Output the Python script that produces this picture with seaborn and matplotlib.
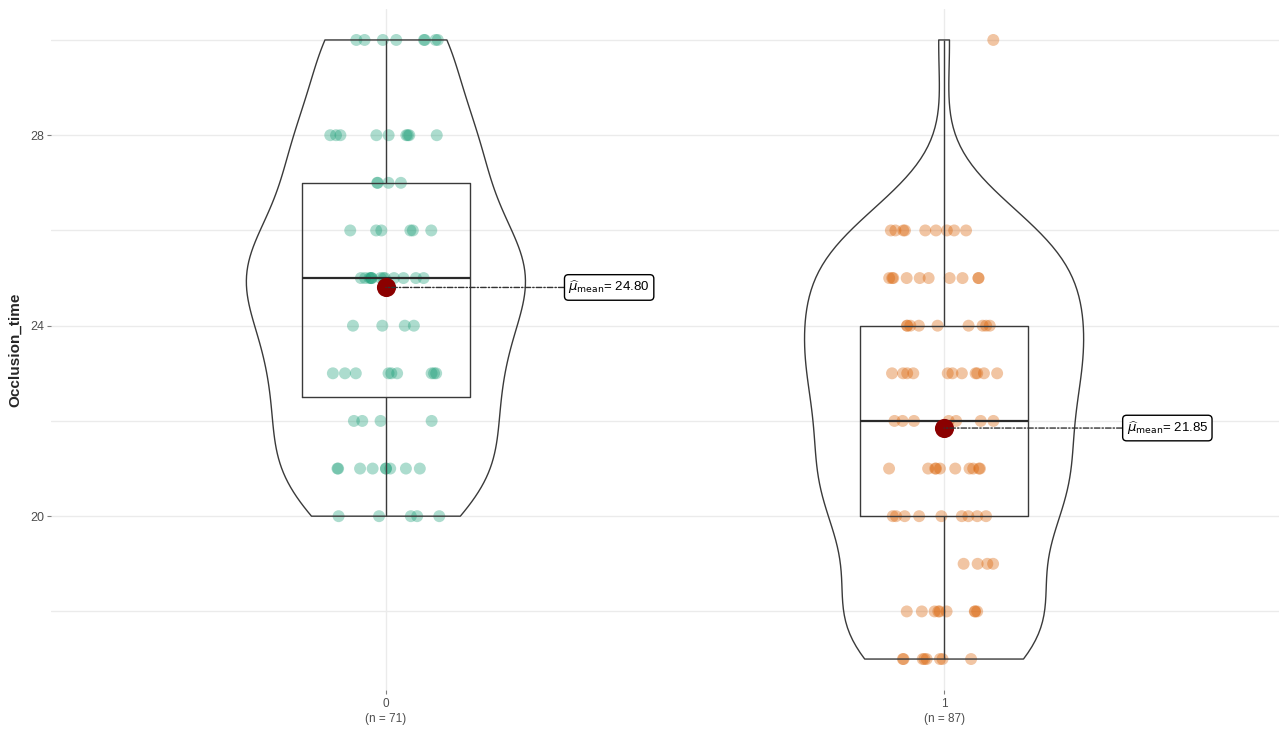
import numpy as np
import pandas as pd
import matplotlib
matplotlib.use("Agg")
import matplotlib.pyplot as plt
import seaborn as sns

# Occlusion time observations, stored as value levels and how often each occurs
groups = ["0", "1"]
group0_levels = [20, 21, 22, 23, 24, 25, 26, 27, 28, 30]
group0_counts = [5, 9, 4, 9, 4, 13, 6, 4, 9, 8]
group1_levels = [17, 18, 19, 20, 21, 22, 23, 24, 25, 26, 30]
group1_counts = [8, 9, 4, 9, 10, 7, 11, 9, 10, 9, 1]
palette = ["#1B9E77", "#D95F02"]
y_label = "Occlusion_time"

vals0 = np.repeat(group0_levels, group0_counts)
vals1 = np.repeat(group1_levels, group1_counts)
df = pd.DataFrame({
    "group": ["0"] * len(vals0) + ["1"] * len(vals1),
    "Occlusion_time": np.concatenate([vals0, vals1]).astype(float),
})


def nrd0_factor(kde):
    """Silverman's rule-of-thumb bandwidth expressed as a factor of the sample sd."""
    x = kde.dataset.ravel()
    sd = np.std(x, ddof=1)
    iqr = np.subtract(*np.percentile(x, [75, 25]))
    lo = min(sd, iqr / 1.34) if iqr > 0 else sd
    return 0.9 * lo * len(x) ** (-0.2) / sd


np.random.seed(7)
sns.set_theme(style="white")
plt.rcParams["font.family"] = ["Liberation Sans", "DejaVu Sans"]

fig = plt.figure(figsize=(12.79, 7.32), dpi=100)
ax = fig.add_axes([51 / 1279, 42 / 732, 1228 / 1279, 681 / 732])

# jittered raw observations
sns.stripplot(data=df, x="group", y="Occlusion_time", hue="group", order=groups,
              hue_order=groups, palette=palette, jitter=0.1, size=8.6, alpha=0.36,
              linewidth=0, legend=False, ax=ax, zorder=2)

# box-and-whisker summary without caps or outliers
sns.boxplot(data=df, x="group", y="Occlusion_time", order=groups, width=0.3,
            fill=False, color="#3a3a3a", linewidth=1.0, showcaps=False,
            showfliers=False, whis=1.5, ax=ax, zorder=3,
            medianprops={"linewidth": 1.6, "color": "#2a2a2a"})

# trimmed violins, each scaled to the same maximum width
sns.violinplot(data=df, x="group", y="Occlusion_time", order=groups, width=0.5,
               cut=0, density_norm="width", bw_method=nrd0_factor, inner=None,
               fill=False, color="#3a3a3a", linewidth=1.0, ax=ax, zorder=3)

# group means with labelled call-outs
means = df.groupby("group")["Occlusion_time"].mean().reindex(groups)
for i, m in enumerate(means.values):
    ax.annotate(r"$\widehat{\mu}_{\mathrm{mean}}$" + f"= {m:.2f}",
                xy=(i, m), xytext=(i + 0.327, m), ha="left", va="center",
                fontsize=9.5, color="black", zorder=6,
                bbox=dict(boxstyle="round,pad=0.3,rounding_size=0.3", fc="white",
                          ec="black", lw=1.0),
                arrowprops=dict(arrowstyle="-", linestyle=(0, (4, 1.5, 1, 1.5)),
                                color="#333333", lw=1.0, shrinkA=0, shrinkB=0))
    ax.scatter([i], [m], s=190, color="#8B0000", zorder=5, linewidth=0)

counts = df.groupby("group").size().reindex(groups)
ax.set_xticks(range(len(groups)))
ax.set_xticklabels([f"{g}\n(n = {n})" for g, n in zip(groups, counts.values)],
                   fontsize=8.5, color="#4d4d4d", linespacing=1.25)
ax.set_xlim(-0.6, 1.6)
ax.set_ylim(16.35, 30.65)
ax.set_yticks([20, 24, 28])
ax.set_yticks([18, 22, 26, 30], minor=True)
ax.tick_params(axis="y", labelsize=9, labelcolor="#4d4d4d", length=3, width=0.8,
               color="#7f7f7f", pad=2, which="major", left=True)
ax.tick_params(axis="x", length=3, width=0.8, color="#7f7f7f", pad=3, bottom=True)
ax.tick_params(which="minor", left=False)
ax.set_xlabel("")
ax.set_ylabel(y_label, fontsize=11, fontweight="bold", labelpad=6)

ax.grid(True, which="major", color="#ebebeb", linewidth=1.0)
ax.grid(True, which="minor", axis="y", color="#ebebeb", linewidth=1.0)
ax.set_axisbelow(True)
for s in ax.spines.values():
    s.set_visible(False)

fig.savefig("out.png", dpi=100, facecolor="white")
